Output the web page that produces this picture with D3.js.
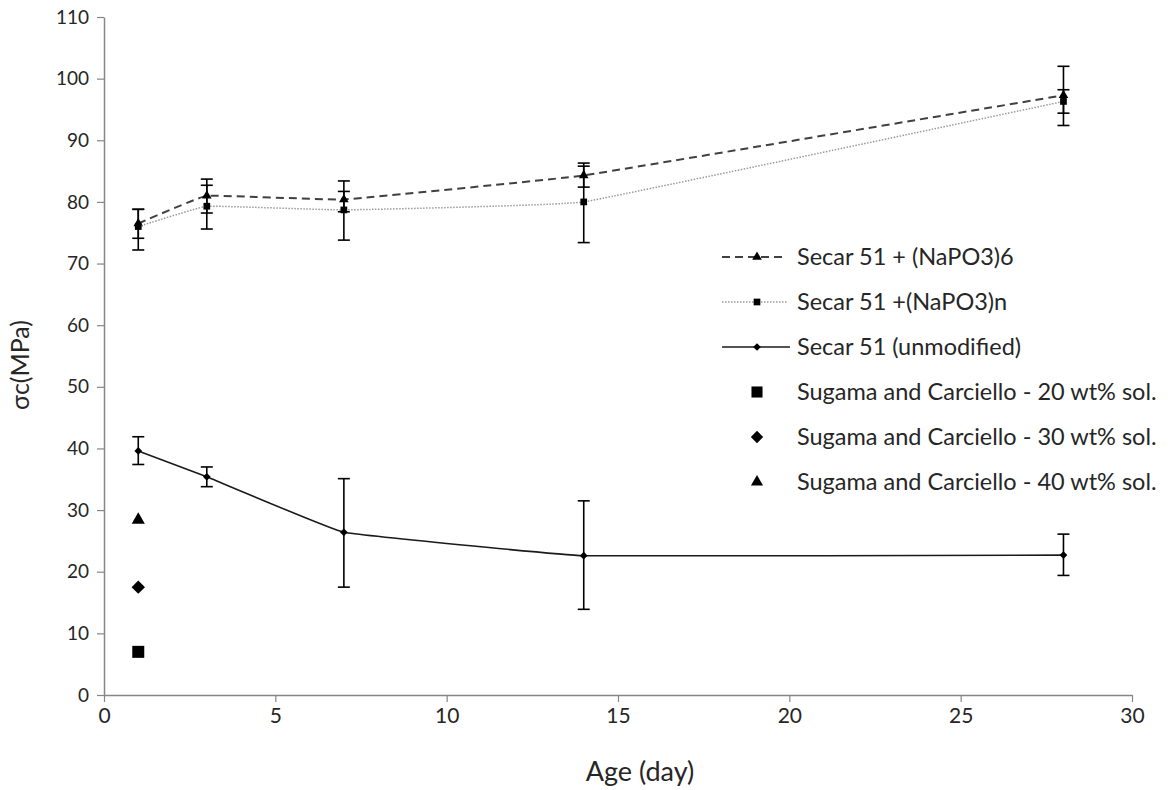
<!DOCTYPE html>
<html>
<head>
<meta charset="utf-8">
<script src="https://cdn.jsdelivr.net/npm/d3@7"></script>
<style>
  body { margin: 0; background: #fff; }
  text { font-family: Lato, "Open Sans", sans-serif; fill: #262626; }
</style>
</head>
<body>
<svg id="chart" width="1173" height="790"></svg>
<script>
// data
let days = [1, 3, 7, 14, 28]

let napo6 = [76.5, 81.0, 80.4, 84.3, 97.3]
let napo6Lo = [74.1, 78.2, 78.4, 82.4, 92.4]
let napo6Hi = [78.8, 83.7, 81.7, 86.3, 102.0]

let napon = [76.0, 79.3, 78.7, 80.0, 96.3]
let naponLo = [72.2, 75.6, 73.8, 73.4, 94.4]
let naponHi = [78.8, 82.7, 83.4, 85.8, 98.2]

let unmod = [39.6, 35.4, 26.4, 22.6, 22.7]
let unmodLo = [37.4, 33.8, 17.5, 13.9, 19.4]
let unmodHi = [41.9, 37.0, 35.1, 31.5, 26.1]

let sugamaDay = 1
let sugama = [7.0, 17.5, 28.4]   // 20, 30, 40 wt% sol.

let xTicks = [0, 5, 10, 15, 20, 25, 30]
let yTicks = [0, 10, 20, 30, 40, 50, 60, 70, 80, 90, 100, 110]

let legendLabels = [
  'Secar 51 + (NaPO3)6',
  'Secar 51 +(NaPO3)n',
  'Secar 51 (unmodified)',
  'Sugama and Carciello - 20 wt% sol.',
  'Sugama and Carciello - 30 wt% sol.',
  'Sugama and Carciello - 40 wt% sol.'
]

let svg = d3.select('#chart')
let mLeft = 104, mRight = 1132, mTop = 17, mBottom = 695

let x = d3.scaleLinear().domain([0, 30]).range([mLeft, mRight])
let y = d3.scaleLinear().domain([0, 110]).range([mBottom, mTop])

// rotated square, the way the spreadsheet draws its diamonds
let diamond = {
  draw(ctx, size) {
    let r = Math.sqrt(size) / Math.SQRT2
    ctx.moveTo(0, -r); ctx.lineTo(r, 0); ctx.lineTo(0, r); ctx.lineTo(-r, 0); ctx.closePath()
  }
}

// axes
let xAxis = svg.append('g')
  .attr('transform', `translate(0,${mBottom})`)
  .call(d3.axisBottom(x).tickValues(xTicks).tickSize(7).tickSizeOuter(0).tickPadding(6))
let yAxis = svg.append('g')
  .attr('transform', `translate(${mLeft},0)`)
  .call(d3.axisLeft(y).tickValues(yTicks).tickSize(7).tickSizeOuter(0).tickPadding(8))

;[xAxis, yAxis].forEach(ax => {
  ax.select('.domain').attr('stroke', '#868686').attr('stroke-width', 1.5)
  ax.selectAll('.tick line').attr('stroke', '#868686').attr('stroke-width', 1.2)
  ax.selectAll('.tick text').style('font-family', 'Lato, sans-serif').attr('fill', '#262626')
})
xAxis.selectAll('.tick text').style('font-size', '21px')
yAxis.selectAll('.tick text').style('font-size', '19px')

svg.append('text')
  .attr('x', 640).attr('y', 781)
  .attr('text-anchor', 'middle')
  .style('font-size', '27px')
  .text('Age (day)')

svg.append('text')
  .attr('transform', `translate(29,365) rotate(-90)`)
  .attr('text-anchor', 'middle')
  .style('font-size', '25px')
  .text('σc(MPa)')

let series = [
  { v: napo6, lo: napo6Lo, hi: napo6Hi, stroke: '#404040', dash: '8,5', width: 2, sym: d3.symbolTriangle, size: 40 },
  { v: napon, lo: naponLo, hi: naponHi, stroke: '#9a9a9a', dash: '1.5,1.5', width: 1.5, sym: d3.symbolSquare, size: 45 },
  { v: unmod, lo: unmodLo, hi: unmodHi, stroke: '#1a1a1a', dash: null, width: 1.6, sym: diamond, size: 30 }
]

// lightly smoothed, close to straight segments
let line = d3.line()
  .x((d, i) => x(days[i]))
  .y(d => y(d))
  .curve(d3.curveCardinal.tension(0.8))

series.forEach(s => {
  svg.append('path')
    .datum(s.v)
    .attr('d', line)
    .attr('fill', 'none')
    .attr('stroke', s.stroke)
    .attr('stroke-width', s.width)
    .attr('stroke-dasharray', s.dash)

  // error bars
  let eb = svg.append('g').selectAll('g').data(days).enter().append('g')
  eb.append('line')
    .attr('x1', d => x(d)).attr('x2', d => x(d))
    .attr('y1', (d, i) => y(s.lo[i])).attr('y2', (d, i) => y(s.hi[i]))
    .attr('stroke', '#000').attr('stroke-width', 1.6)
  ;['lo', 'hi'].forEach(k => {
    eb.append('line')
      .attr('x1', d => x(d) - 6).attr('x2', d => x(d) + 6)
      .attr('y1', (d, i) => y(s[k][i])).attr('y2', (d, i) => y(s[k][i]))
      .attr('stroke', '#000').attr('stroke-width', 1.6)
  })

  svg.append('g').selectAll('path').data(s.v).enter().append('path')
    .attr('transform', (d, i) => `translate(${x(days[i])},${y(d)})`)
    .attr('d', d3.symbol().type(s.sym).size(s.size))
    .attr('fill', '#000')
})

// Sugama and Carciello single points
let sugSyms = [
  { sym: d3.symbolSquare, size: 144 },
  { sym: diamond, size: 90 },
  { sym: d3.symbolTriangle, size: 75 }
]
svg.append('g').selectAll('path').data(sugama).enter().append('path')
  .attr('transform', d => `translate(${x(sugamaDay)},${y(d)})`)
  .attr('d', (d, i) => d3.symbol().type(sugSyms[i].sym).size(sugSyms[i].size)())
  .attr('fill', '#000')

// legend
let legend = svg.append('g')
let legY = 257, legStep = 45
legendLabels.forEach((lab, i) => {
  let yy = legY + i * legStep
  let cx = 757
  if (i < 3) {
    let s = series[i]
    legend.append('line')
      .attr('x1', 722).attr('x2', i === 2 ? 790 : 787)
      .attr('y1', yy).attr('y2', yy)
      .attr('stroke', s.stroke).attr('stroke-width', s.width)
      .attr('stroke-dasharray', s.dash)
    legend.append('path')
      .attr('transform', `translate(${cx},${yy})`)
      .attr('d', d3.symbol().type(s.sym).size(s.size))
      .attr('fill', '#000')
  } else {
    let ss = sugSyms[i - 3]
    legend.append('path')
      .attr('transform', `translate(${cx},${yy})`)
      .attr('d', d3.symbol().type(ss.sym).size(ss.size * 0.85))
      .attr('fill', '#000')
  }
  legend.append('text')
    .attr('x', 797).attr('y', yy + 8)
    .style('font-size', '23.5px')
    .text(lab)
})
</script>
</body>
</html>
